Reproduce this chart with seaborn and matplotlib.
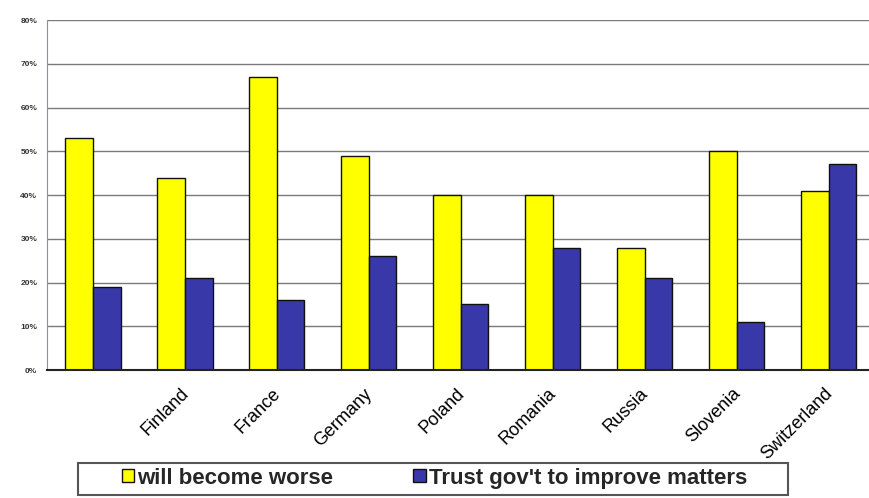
import matplotlib
matplotlib.use("Agg")
import matplotlib.pyplot as plt
import matplotlib.transforms as mtransforms
from matplotlib.patches import Rectangle
import seaborn as sns
import pandas as pd
from matplotlib.ticker import MultipleLocator, FuncFormatter

countries = ["", "Finland", "France", "Germany", "Poland", "Romania",
             "Russia", "Slovenia", "Switzerland"]
worse = [53, 44, 67, 49, 40, 40, 28, 50, 41]
trust = [19, 21, 16, 26, 15, 28, 21, 11, 47]
series = ["will become worse", "Trust gov't to improve matters"]
colors = ["#FFFF00", "#3838A8"]

df = pd.DataFrame({
    "country": countries * 2,
    "value": worse + trust,
    "series": [series[0]] * len(countries) + [series[1]] * len(countries),
})

sns.set_style("white")
plt.rcParams["font.family"] = ["Liberation Sans", "DejaVu Sans"]

W, H = 869, 498
fig = plt.figure(figsize=(8.69, 4.98), dpi=100)
ax = fig.add_axes([47 / W, 128 / H, 1 - 47 / W, 350 / H])

sns.barplot(data=df, x="country", y="value", hue="series",
            palette=colors, saturation=1, width=0.6,
            edgecolor="#111111", linewidth=1.0,
            ax=ax, legend=True, order=countries, hue_order=series)

ax.set_xlim(-0.5, 8.44)
ax.set_ylim(0, 80)
ax.yaxis.set_major_locator(MultipleLocator(10))
ax.yaxis.set_major_formatter(FuncFormatter(lambda v, p: f"{int(v)}%"))
ax.grid(axis="y", color="#7a7a7a", linewidth=1.0)
ax.set_axisbelow(True)
ax.set_xlabel("")
ax.set_ylabel("")

for s in ["top", "right"]:
    ax.spines[s].set_visible(False)
ax.spines["left"].set_color("#8890b0")
ax.spines["bottom"].set_color("#222222")
ax.spines["bottom"].set_linewidth(1.5)

ax.tick_params(axis="y", labelsize=6, colors="#333333", length=0, pad=7)
for t in ax.get_yticklabels():
    t.set_fontweight("bold")
ax.tick_params(axis="x", length=0, pad=11, labelsize=13, colors="black")
ax.set_xticks(range(len(countries)))
ax.set_xticklabels(countries, rotation=45, ha="right", rotation_mode="anchor")
offset = mtransforms.ScaledTranslation(-5 / 100, 0, fig.dpi_scale_trans)
for t in ax.get_xticklabels():
    t.set_transform(t.get_transform() + offset)

ax.get_legend().remove()
handles, labels = ax.get_legend_handles_labels()
leg = fig.legend(handles, labels, loc="center", bbox_to_anchor=(0.5, 0.04),
                 ncol=2, frameon=False,
                 prop={"size": 16, "weight": "bold"},
                 handlelength=0.55, handleheight=0.55, handletextpad=0.15,
                 columnspacing=3.6, borderpad=0.25, borderaxespad=0)

# legend frame box
box = Rectangle((78 / W, (H - 495) / H), (788 - 78) / W, 32 / H,
                transform=fig.transFigure, fill=False,
                edgecolor="#555555", linewidth=1.5, zorder=0)
fig.patches.append(box)

fig.savefig("out.png", dpi=100)
